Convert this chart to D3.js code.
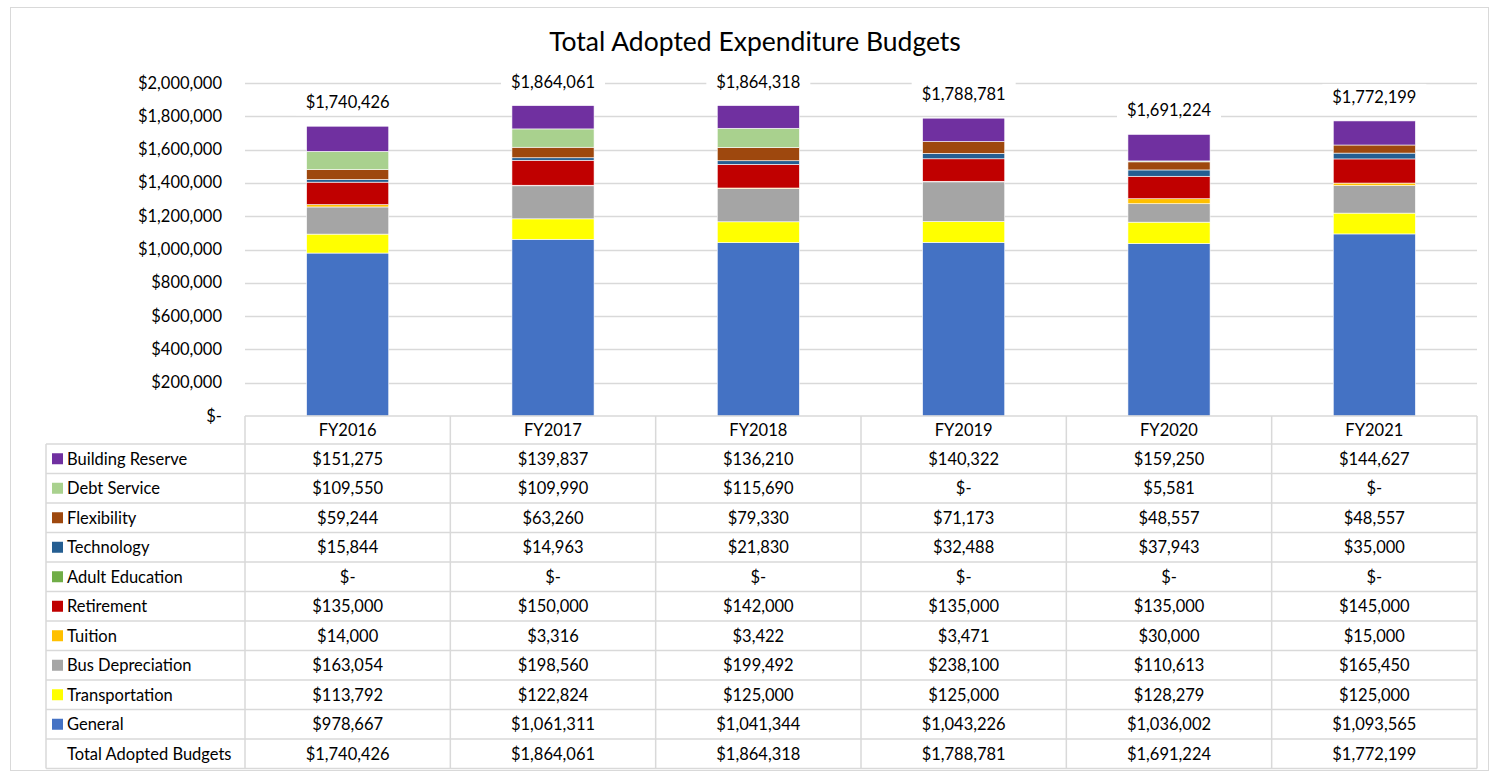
<!DOCTYPE html>
<html lang="en">
<head>
  <meta charset="UTF-8">
  <title>Total Adopted Expenditure Budgets</title>
  <script src="https://d3js.org/d3.v7.min.js"></script>
  <style>
    body {
      margin: 0;
      padding: 0;
      background: #fff;
      font-family: Lato, "Open Sans", sans-serif;
    }
    text { fill: #000; }
  </style>
</head>
<body>
<div id="chart"></div>
<script>
  // Data
  const years = ["FY2016", "FY2017", "FY2018", "FY2019", "FY2020", "FY2021"];
  // series listed bottom-up (stack order)
  const seriesNames = ["General", "Transportation", "Bus Depreciation", "Tuition", "Retirement",
                       "Adult Education", "Technology", "Flexibility", "Debt Service", "Building Reserve"];
  const seriesColors = ["#4472C4", "#FFFF00", "#A5A5A5", "#FFC000", "#C00000",
                        "#70AD47", "#255E91", "#9E480E", "#A9D18E", "#7030A0"];
  const general         = [978667, 1061311, 1041344, 1043226, 1036002, 1093565];
  const transportation  = [113792, 122824, 125000, 125000, 128279, 125000];
  const busDepreciation = [163054, 198560, 199492, 238100, 110613, 165450];
  const tuition         = [14000, 3316, 3422, 3471, 30000, 15000];
  const retirement      = [135000, 150000, 142000, 135000, 135000, 145000];
  const adultEducation  = [0, 0, 0, 0, 0, 0];
  const technology      = [15844, 14963, 21830, 32488, 37943, 35000];
  const flexibility     = [59244, 63260, 79330, 71173, 48557, 48557];
  const debtService     = [109550, 109990, 115690, 0, 5581, 0];
  const buildingReserve = [151275, 139837, 136210, 140322, 159250, 144627];
  const totals          = [1740426, 1864061, 1864318, 1788781, 1691224, 1772199];
  const yTicks = [0, 200000, 400000, 600000, 800000, 1000000, 1200000, 1400000, 1600000, 1800000, 2000000];

  const seriesValues = [general, transportation, busDepreciation, tuition, retirement,
                        adultEducation, technology, flexibility, debtService, buildingReserve];

  const rows = years.map((y, i) => {
    const r = { year: y };
    seriesNames.forEach((s, k) => { r[s] = seriesValues[k][i]; });
    return r;
  });

  const width = 1490, height = 773;
  const plotLeft = 245, plotRight = 1477, plotTop = 83, plotBottom = 416;
  const tableLeft = 46;
  const headerH = 28, rowH = 29.5;
  const fs = "16.5px";

  const svg = d3.select("#chart").append("svg")
    .attr("width", width)
    .attr("height", height);

  // outer frame
  svg.append("rect")
    .attr("x", 10.5).attr("y", 7.5)
    .attr("width", 1478).attr("height", 763)
    .attr("fill", "#fff")
    .attr("stroke", "#d9d9d9");

  svg.append("text")
    .attr("x", 755).attr("y", 51)
    .attr("text-anchor", "middle")
    .style("font-size", "26.5px")
    .text("Total Adopted Expenditure Budgets");

  const x = d3.scaleBand()
    .domain(years)
    .range([plotLeft, plotRight])
    .paddingInner(0.6)
    .paddingOuter(0.3);

  const xCol = d3.scaleBand()
    .domain(years)
    .range([plotLeft, plotRight]);

  const y = d3.scaleLinear()
    .domain([0, 2000000])
    .range([plotBottom, plotTop]);

  const fmt = v => v === 0 ? "$-" : "$" + d3.format(",")(v);

  // gridlines
  svg.append("g")
    .selectAll("line")
    .data(yTicks.filter(t => t > 0))
    .join("line")
    .attr("x1", plotLeft).attr("x2", plotRight)
    .attr("y1", d => Math.round(y(d)) + 0.5)
    .attr("y2", d => Math.round(y(d)) + 0.5)
    .attr("stroke", "#d9d9d9")
    .attr("stroke-width", 1.5);

  // y axis labels
  svg.append("g")
    .selectAll("text")
    .data(yTicks)
    .join("text")
    .attr("x", 222)
    .attr("y", d => y(d) + 5.5)
    .attr("text-anchor", "end")
    .style("font-size", fs)
    .text(d => fmt(d));

  // stacked bars
  const stack = d3.stack().keys(seriesNames);
  const layers = stack(rows);

  svg.append("g")
    .selectAll("g")
    .data(layers)
    .join("g")
    .attr("fill", (d, i) => seriesColors[i])
    .selectAll("rect")
    .data(d => d)
    .join("rect")
    .attr("x", d => x(d.data.year))
    .attr("width", x.bandwidth())
    .attr("y", d => y(d[1]))
    .attr("height", d => Math.max(0, y(d[0]) - y(d[1])))
    .attr("stroke", "#fff")
    .attr("stroke-width", d => (d[1] - d[0]) > 0 ? 0.6 : 0);

  // total labels with white background
  const totalG = svg.append("g")
    .selectAll("g")
    .data(years)
    .join("g")
    .attr("transform", (d, i) => `translate(${x(d) + x.bandwidth() / 2},${y(totals[i]) - 24})`);

  totalG.append("rect")
    .attr("x", -52).attr("y", -13)
    .attr("width", 104).attr("height", 26)
    .attr("fill", "#fff");

  totalG.append("text")
    .attr("text-anchor", "middle")
    .attr("y", 6)
    .style("font-size", fs)
    .text((d, i) => fmt(totals[i]));

  // data table
  const tableRows = seriesNames.slice().reverse();
  const tableColors = seriesColors.slice().reverse();
  const tableTop = plotBottom;
  const bodyTop = tableTop + headerH;
  const nRows = tableRows.length + 1;
  const tableBottom = bodyTop + nRows * rowH;

  const grid = svg.append("g")
    .attr("stroke", "#d9d9d9")
    .attr("stroke-width", 1.5);

  // horizontal lines
  grid.append("line")
    .attr("x1", plotLeft).attr("x2", plotRight)
    .attr("y1", tableTop).attr("y2", tableTop);

  d3.range(nRows + 1).forEach(k => {
    grid.append("line")
      .attr("x1", tableLeft).attr("x2", plotRight)
      .attr("y1", bodyTop + k * rowH).attr("y2", bodyTop + k * rowH);
  });

  // vertical lines
  grid.append("line")
    .attr("x1", tableLeft).attr("x2", tableLeft)
    .attr("y1", bodyTop).attr("y2", tableBottom);
  years.forEach(yr => {
    grid.append("line")
      .attr("x1", xCol(yr)).attr("x2", xCol(yr))
      .attr("y1", tableTop).attr("y2", tableBottom);
  });
  grid.append("line")
    .attr("x1", plotRight).attr("x2", plotRight)
    .attr("y1", tableTop).attr("y2", tableBottom);

  // header labels
  svg.append("g")
    .selectAll("text")
    .data(years)
    .join("text")
    .attr("x", d => xCol(d) + xCol.bandwidth() / 2)
    .attr("y", tableTop + headerH / 2 + 6)
    .attr("text-anchor", "middle")
    .style("font-size", fs)
    .text(d => d);

  // row labels + keys
  const rowG = svg.append("g")
    .selectAll("g")
    .data(tableRows.concat(["Total Adopted Budgets"]))
    .join("g")
    .attr("transform", (d, i) => `translate(0,${bodyTop + i * rowH + rowH / 2})`);

  rowG.filter((d, i) => i < tableRows.length)
    .append("rect")
    .attr("x", 52).attr("y", -5.5)
    .attr("width", 11).attr("height", 11)
    .attr("fill", (d, i) => tableColors[i]);

  rowG.append("text")
    .attr("x", 67)
    .attr("y", 6)
    .style("font-size", fs)
    .text(d => d);

  // cell values
  rowG.each(function(name, i) {
    const vals = i < tableRows.length
      ? seriesValues[seriesNames.indexOf(name)]
      : totals;
    d3.select(this).selectAll("text.val")
      .data(vals)
      .join("text")
      .attr("class", "val")
      .attr("x", (v, j) => xCol(years[j]) + xCol.bandwidth() / 2)
      .attr("y", 6)
      .attr("text-anchor", "middle")
      .style("font-size", fs)
      .text(v => fmt(v));
  });
</script>
</body>
</html>
